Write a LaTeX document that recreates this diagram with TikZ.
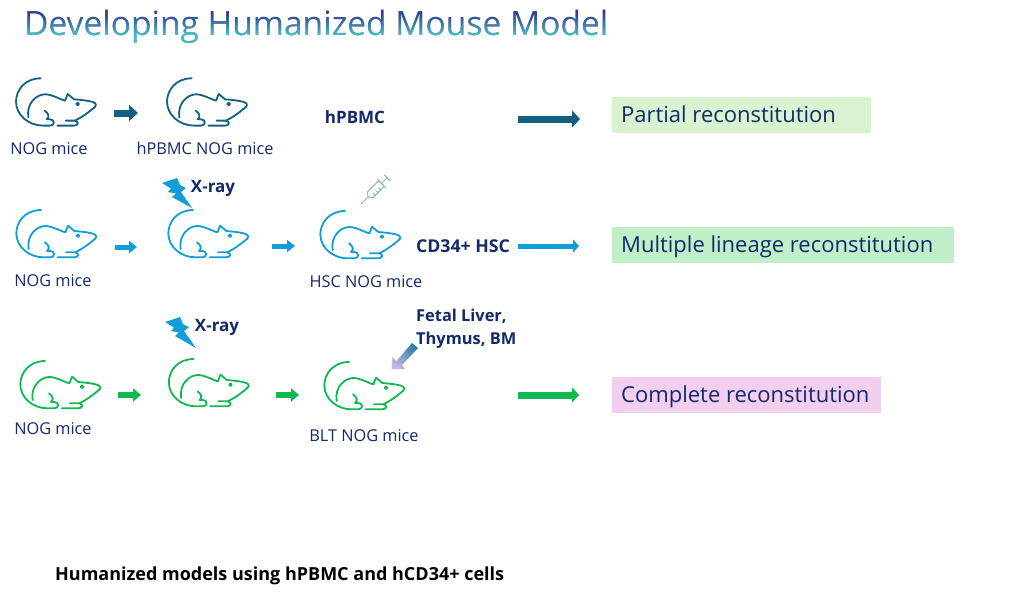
\documentclass[tikz,border=0pt]{standalone}
\usepackage{fontspec}
\setmainfont{Open Sans}
\usetikzlibrary{arrows.meta}
\definecolor{navy}{HTML}{14296B}
\definecolor{ratA}{HTML}{156082}
\definecolor{ratB}{HTML}{0F9ED5}
\definecolor{ratC}{HTML}{10B850}
\definecolor{titletop}{HTML}{2B3F8C}
\definecolor{titlebot}{HTML}{3FBCC8}
\definecolor{boxA}{HTML}{D9F2D0}
\definecolor{boxB}{HTML}{C1F0C8}
\definecolor{boxC}{HTML}{F2CEEF}
\definecolor{syr}{HTML}{8CB4BA}
\definecolor{gradA}{HTML}{C4B5E8}
\definecolor{gradB}{HTML}{6CC1DD}
\definecolor{gradC}{HTML}{2A7F9F}
\tikzset{
  rat/.pic={
    \begin{scope}[x=0.3333pt,y=-0.3333pt,shift={(-122,-55)},line width=1.8pt,line cap=round,line join=round]
      \draw[pic actions,fill=none] (122,55) .. controls (75,55) and (48,90) .. (48,125)
        .. controls (48,165) and (85,197) .. (130,197) -- (150,197)
        .. controls (165,197) and (165,178) .. (150,178) -- (140,178)
        .. controls (150,170) and (145,160) .. (134,152);
      \draw[pic actions,fill=none] (85,172) .. controls (78,130) and (110,103) .. (135,103)
        .. controls (155,103) and (180,118) .. (195,122) -- (203,102) -- (222,118)
        .. controls (245,120) and (265,122) .. (278,126)
        .. controls (291,130) and (290,138) .. (280,145)
        .. controls (262,160) and (245,172) .. (225,182) -- (197,182);
      \draw[pic actions,fill=none] (225,182) .. controls (238,185) and (235,197) .. (222,197) -- (172,197);
      \fill[pic actions] (233,132) circle (4);
    \end{scope}
  },
  lbl/.style={text=navy,font=\fontsize{16.3}{19}\selectfont,inner sep=0pt},
  blbl/.style={text=navy,font=\fontsize{17}{23}\selectfont\bfseries,inner sep=0pt,align=left},
  resbox/.style={anchor=west,minimum height=36pt,inner sep=0pt},
  restxt/.style={anchor=base west,inner sep=0pt,text=navy,font=\fontsize{22}{26}\selectfont},
  bigA/.style={draw=ratA,line width=7pt,-{Triangle[length=8pt,width=17pt]}},
  bigB/.style={draw=ratB,line width=5pt,-{Triangle[length=6pt,width=13pt]}},
  bigC/.style={draw=ratC,line width=7pt,-{Triangle[length=7pt,width=15pt]}},
  smallA/.style={draw=ratA,line width=7pt,-{Triangle[length=9pt,width=16pt]}},
  smallB/.style={draw=ratB,line width=5pt,-{Triangle[length=8pt,width=12pt]}},
  smallC/.style={draw=ratC,line width=6pt,-{Triangle[length=8pt,width=13pt]}},
  bolt/.style={fill=ratB,draw=none}
}
\begin{document}
\begin{tikzpicture}[x=1pt,y=-1pt]
\useasboundingbox (0,0) rectangle (1024,598);
\fill[white] (0,0) rectangle (1024,598);

% title
\node[anchor=base west,inner sep=0pt,text=titletop,font=\fontsize{33.5}{38}\selectfont] (title) at (24,35) {Developing Humanized Mouse Model};
\fill[titletop,blend mode=lighten] (10,2) rectangle (625,13);
\shade[top color=titletop,bottom color=titlebot,blend mode=lighten] (10,13) rectangle (625,34);
\fill[titlebot,blend mode=lighten] (10,34) rectangle (625,46);

% mice
\pic[draw=ratA,fill=ratA] at (40.7,78.3) {rat};
\pic[draw=ratA,fill=ratA] at (191.7,78.3) {rat};
\pic[draw=ratB,fill=ratB] at (41,210) {rat};
\pic[draw=ratB,fill=ratB] at (193,210) {rat};
\pic[draw=ratB,fill=ratB] at (345,211) {rat};
\pic[draw=ratC,fill=ratC] at (45,361) {rat};
\pic[draw=ratC,fill=ratC] at (193.5,359) {rat};
\pic[draw=ratC,fill=ratC] at (349,362) {rat};

% labels
\node[lbl] (l1) at (49,148.5) {NOG mice};
\node[lbl] (l2) at (205,148.5) {hPBMC NOG mice};
\node[lbl] (l3) at (53,280.5) {NOG mice};
\node[lbl] (l4) at (366,281.5) {HSC NOG mice};
\node[lbl] (l5) at (53,428.5) {NOG mice};
\node[lbl] (l6) at (364,435.5) {BLT NOG mice};
\node[blbl] (b1) at (355,117) {hPBMC};
\node[blbl] (b2) at (213,188.5) {X-ray};
\node[blbl,font=\fontsize{17.7}{23}\selectfont\bfseries] (b3) at (463,246) {CD34+ HSC};
\node[blbl] (b4) at (217,327) {X-ray};
\node[blbl,anchor=north west,font=\fontsize{16.4}{23}\selectfont\bfseries] (b5) at (416,309) {Fetal Liver,\\Thymus, BM};
\node[blbl,anchor=west,text=black,font=\fontsize{18}{22}\selectfont\bfseries] (foot) at (55,576) {Humanized models using hPBMC and hCD34+ cells};

% result boxes
\node[resbox,minimum width=259pt,fill=boxA] (r1) at (612,115) {};
\node[restxt] (r1t) at (621,122.5) {Partial reconstitution};
\node[resbox,minimum width=342pt,fill=boxB] (r2) at (612,245) {};
\node[restxt] (r2t) at (621,252.5) {Multiple lineage reconstitution};
\node[resbox,minimum width=269pt,fill=boxC] (r3) at (612,395) {};
\node[restxt] (r3t) at (621,402.5) {Complete reconstitution};

% arrows
\coordinate (a1s) at (114,113); \coordinate (a1e) at (138,113);
\draw[smallA] (a1s) -- (a1e);
\coordinate (a2s) at (518,119); \coordinate (a2e) at (580,119);
\draw[bigA] (a2s) -- (a2e);
\coordinate (b1s) at (115,247); \coordinate (b1e) at (137,247);
\draw[smallB] (b1s) -- (b1e);
\coordinate (b2s) at (272,246); \coordinate (b2e) at (295,246);
\draw[smallB] (b2s) -- (b2e);
\coordinate (b3s) at (518,246); \coordinate (b3e) at (579,246);
\draw[bigB] (b3s) -- (b3e);
\coordinate (c1s) at (118,395); \coordinate (c1e) at (141,395);
\draw[smallC] (c1s) -- (c1e);
\coordinate (c2s) at (276,395); \coordinate (c2e) at (299,395);
\draw[smallC] (c2s) -- (c2e);
\coordinate (c3s) at (518,395); \coordinate (c3e) at (579,395);
\draw[bigC] (c3s) -- (c3e);

% lightning
\fill[bolt] (162,183) -- (177,178) -- (180,185) -- (186,188) -- (181,192) -- (192,208) -- (172,197) -- (176,193.5) -- (168,192) -- (171,188.5) -- cycle;
\fill[bolt] (165,322) -- (180,317) -- (183,324) -- (189,327) -- (184,331) -- (196,348) -- (175,336) -- (179,332.5) -- (171,331) -- (174,327.5) -- cycle;

% syringe
\begin{scope}[shift={(361,204)},rotate=45,y=1pt,draw=syr,line width=1pt,line cap=round,line join=round]
  \draw (0,0) -- (10,0);
  \draw (10,0) -- (13,-4) -- (29,-4) -- (29,4) -- (13,4) -- cycle;
  \draw (16,-4) -- (16,-1) (20,-4) -- (20,-1) (24,-4) -- (24,-1);
  \draw (29,0) -- (37,0) (37,-4) -- (37,4) (29,-6) -- (29,6);
\end{scope}

% gradient arrow
\shade[left color=gradC,middle color=gradB,right color=gradA,shading angle=-45]
  (391.5,369) -- (392.5,357) -- (396.5,361) -- (412,343) -- (418,348) -- (402,365) -- (405,369) -- cycle;
\end{tikzpicture}
\end{document}
